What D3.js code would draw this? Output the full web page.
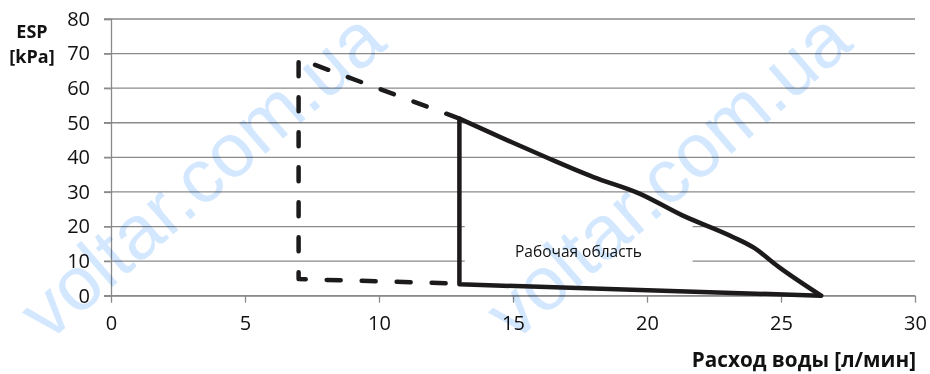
<!DOCTYPE html>
<html>
<head>
<meta charset="utf-8">
<script src="https://cdn.jsdelivr.net/npm/d3@7"></script>
<style>
  body { margin: 0; background: #fff; }
  svg { font-family: "Open Sans", sans-serif; }
</style>
</head>
<body>
<div id="chart"></div>
<script>
// data
var xTicks = [0, 5, 10, 15, 20, 25, 30];
var yTicks = [0, 10, 20, 30, 40, 50, 60, 70, 80];

// upper working curve (flow, pressure)
var workFlow = [13, 15, 16.3, 18, 19.7, 21.3, 23.2, 24, 24.9, 26.5];
var workEsp  = [51.2, 44.2, 39.8, 34.3, 29.6, 23.3, 17, 13.8, 8.4, 0];

// left edge + bottom of working area
var edgeFlow = [13, 13, 26.5];
var edgeEsp  = [51.2, 3.3, 0];

// dashed extended area
var dashFlow = [13, 7, 7, 13];
var dashEsp  = [51.2, 68.5, 4.8, 3.5];

var labelText = "Рабочая область";
var watermark = "voltar.com.ua";

var width = 930, height = 374;

var svg = d3.select("#chart").append("svg")
    .attr("width", width)
    .attr("height", height);

var x = d3.scaleLinear().domain([0, 30]).range([111, 915]);
var y = d3.scaleLinear().domain([0, 80]).range([295.7, 19]);

//gridlines
svg.append("g")
  .selectAll("line")
  .data(yTicks)
  .join("line")
    .attr("x1", x(0) - 7)
    .attr("x2", x(30))
    .attr("y1", function(d) { return y(d); })
    .attr("y2", function(d) { return y(d); })
    .attr("stroke", "#8a8a8a")
    .attr("stroke-width", 1.3);

//y axis
var yAxis = svg.append("g")
    .attr("transform", "translate(" + x(0) + ",0)")
    .call(d3.axisLeft(y).tickValues(yTicks).tickSize(7).tickPadding(14));
yAxis.select(".domain").attr("stroke", "#8a8a8a").attr("stroke-width", 1.3);
yAxis.selectAll(".tick line").attr("stroke", "#8a8a8a").attr("stroke-width", 1.3);
yAxis.selectAll("text").attr("font-size", 20).attr("fill", "#111")
    .attr("font-family", "Open Sans, sans-serif");

//x axis
var xAxis = svg.append("g")
    .attr("transform", "translate(0," + y(0) + ")")
    .call(d3.axisBottom(x).tickValues(xTicks).tickSize(7).tickSizeOuter(0).tickPadding(13));
xAxis.select(".domain").attr("stroke", "#8a8a8a").attr("stroke-width", 1.3);
xAxis.selectAll(".tick line").attr("stroke", "#8a8a8a").attr("stroke-width", 1.3);
xAxis.selectAll("text").attr("font-size", 20).attr("fill", "#111")
    .attr("font-family", "Open Sans, sans-serif");

//white box behind the label
svg.append("rect")
    .attr("x", x(13.2))
    .attr("width", x(21.7) - x(13.2))
    .attr("y", y(27))
    .attr("height", y(4.8) - y(27))
    .attr("fill", "#fff");

//watermarks, multiplied so the gridlines still show through
[48, 514].forEach(function(sx) {
  svg.append("text")
    .attr("transform", "translate(" + sx + ",343) rotate(-41)")
    .attr("font-family", "Liberation Sans, Arial, sans-serif")
    .attr("font-size", 76)
    .attr("fill", "#d3e8ff")
    .style("mix-blend-mode", "multiply")
    .text(watermark);
});

function pts(xs, ys) { return xs.map(function(v, i) { return [v, ys[i]]; }); }

var lin = d3.line()
  .x(function(d) { return x(d[0]); })
  .y(function(d) { return y(d[1]); });

var smooth = d3.line()
  .x(function(d) { return x(d[0]); })
  .y(function(d) { return y(d[1]); })
  .curve(d3.curveMonotoneX);

//dashed area
svg.append("path")
    .attr("d", lin(pts(dashFlow, dashEsp)))
    .attr("fill", "none")
    .attr("stroke", "#1c1a1b")
    .attr("stroke-width", 4.5)
    .attr("stroke-linecap", "round")
    .attr("stroke-linejoin", "round")
    .attr("stroke-dasharray", "14,21");

//working area
svg.append("path")
    .attr("d", lin(pts(edgeFlow, edgeEsp)))
    .attr("fill", "none")
    .attr("stroke", "#1c1a1b")
    .attr("stroke-width", 4.5)
    .attr("stroke-linejoin", "round");

svg.append("path")
    .attr("d", smooth(pts(workFlow, workEsp)))
    .attr("fill", "none")
    .attr("stroke", "#1c1a1b")
    .attr("stroke-width", 4.5)
    .attr("stroke-linecap", "round")
    .attr("stroke-linejoin", "round");

//label
svg.append("text")
    .attr("x", 515)
    .attr("y", 257)
    .attr("font-size", 15.5)
    .attr("fill", "#111")
    .text(labelText);

//axis titles
svg.append("text")
    .attr("x", 32).attr("y", 38)
    .attr("text-anchor", "middle")
    .attr("font-size", 18).attr("font-weight", "bold").attr("fill", "#111")
    .text("ESP");
svg.append("text")
    .attr("x", 32).attr("y", 63)
    .attr("text-anchor", "middle")
    .attr("font-size", 18).attr("font-weight", "bold").attr("fill", "#111")
    .text("[kPa]");
svg.append("text")
    .attr("x", 916).attr("y", 367)
    .attr("text-anchor", "end")
    .attr("font-size", 20.7).attr("font-weight", "bold").attr("fill", "#111")
    .text("Расход воды [л/мин]");
</script>
</body>
</html>
